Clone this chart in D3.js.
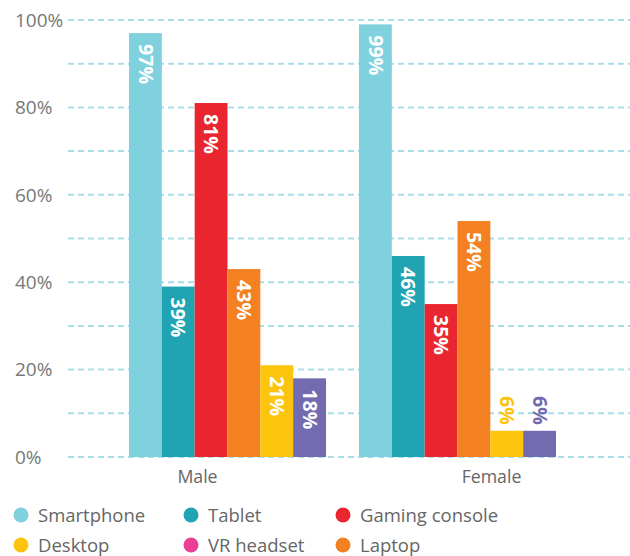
<!DOCTYPE html>
<html><head><meta charset="utf-8">
<script src="https://cdn.jsdelivr.net/npm/d3@7"></script>
<style>body{margin:0;background:#fff;} text{font-family:"Open Sans",sans-serif;}</style>
</head><body>
<svg id="c" width="630" height="556"></svg>
<script>
const categories = ["Male", "Female"];
const seriesNames = ["Smartphone", "Tablet", "Gaming console", "Laptop", "Desktop", "VR headset"];
const maleValues = [97, 39, 81, 43, 21, 18];
const femaleValues = [99, 46, 35, 54, 6, 6];
const yTicks = [0, 20, 40, 60, 80, 100];
const legendItems = ["Smartphone", "Tablet", "Gaming console", "Desktop", "VR headset", "Laptop"];

const barColors = {"Smartphone":"#7fd1de","Tablet":"#20a3b2","Gaming console":"#e9262f","Laptop":"#f38121","Desktop":"#fdc40e","VR headset":"#726bb0"};
const legendColors = {"Smartphone":"#7fd1de","Tablet":"#20a3b2","Gaming console":"#e9262f","Laptop":"#f38121","Desktop":"#fdc40e","VR headset":"#ea3f95"};

const values = {Male: maleValues, Female: femaleValues};
const svg = d3.select("#c");

const y = d3.scaleLinear().domain([0, 100]).range([457, 20]);
const x0 = d3.scaleBand().domain(categories).range([129, 556]).paddingInner(0.1435).paddingOuter(0);
const x1 = d3.scaleBand().domain(seriesNames).range([0, x0.bandwidth()]);
const xl = d3.scalePoint().domain(categories).range([197.5, 491.5]);

// grid
svg.append("g").selectAll("line").data(d3.range(0, 101, 10)).join("line")
  .attr("x1", 68).attr("x2", 630)
  .attr("y1", d => y(d)).attr("y2", d => y(d))
  .attr("stroke", "#a9dde8").attr("stroke-width", 2).attr("stroke-dasharray", "6,4");

// y tick labels
svg.append("g").selectAll("text").data(yTicks).join("text")
  .attr("x", 15).attr("y", d => y(d)).attr("dy", "0.36em")
  .attr("font-size", 19).attr("fill", "#777")
  .text(d => d + "%");

// bars
const rows = [];
categories.forEach(c => seriesNames.forEach((s, i) => rows.push({c, s, v: values[c][i]})));
svg.append("g").selectAll("rect").data(rows).join("rect")
  .attr("x", d => x0(d.c) + x1(d.s))
  .attr("width", x1.bandwidth())
  .attr("y", d => y(d.v))
  .attr("height", d => y(0) - y(d.v))
  .attr("fill", d => barColors[d.s]);

// value labels
svg.append("g").selectAll("text").data(rows).join("text")
  .attr("transform", d => {
    const cx = x0(d.c) + x1(d.s) + x1.bandwidth() / 2;
    const inside = d.v >= 15;
    const ty = inside ? y(d.v) + 11 : y(d.v) - 6;
    return `translate(${cx},${ty}) rotate(90)`;
  })
  .attr("text-anchor", d => d.v >= 15 ? "start" : "end")
  .attr("dy", "0.35em")
  .attr("font-size", 19.5).attr("font-weight", "bold")
  .attr("fill", d => d.v >= 15 ? "#fff" : barColors[d.s])
  .text(d => d.v + "%");

// x labels
svg.append("g").selectAll("text").data(categories).join("text")
  .attr("x", d => xl(d)).attr("y", 483)
  .attr("text-anchor", "middle").attr("font-size", 17.7).attr("fill", "#666")
  .text(d => d);

// legend
const lx = [21, 191, 343];
const ly = [515, 545];
const lg = svg.append("g").selectAll("g").data(legendItems).join("g")
  .attr("transform", (d, i) => `translate(${lx[i % 3]},${ly[Math.floor(i / 3)]})`);
lg.append("circle").attr("r", 7.5).attr("fill", d => legendColors[d]);
lg.append("text").attr("x", 17).attr("dy", "0.36em").attr("font-size", 18.5).attr("fill", "#666").text(d => d);
</script>
</body></html>
